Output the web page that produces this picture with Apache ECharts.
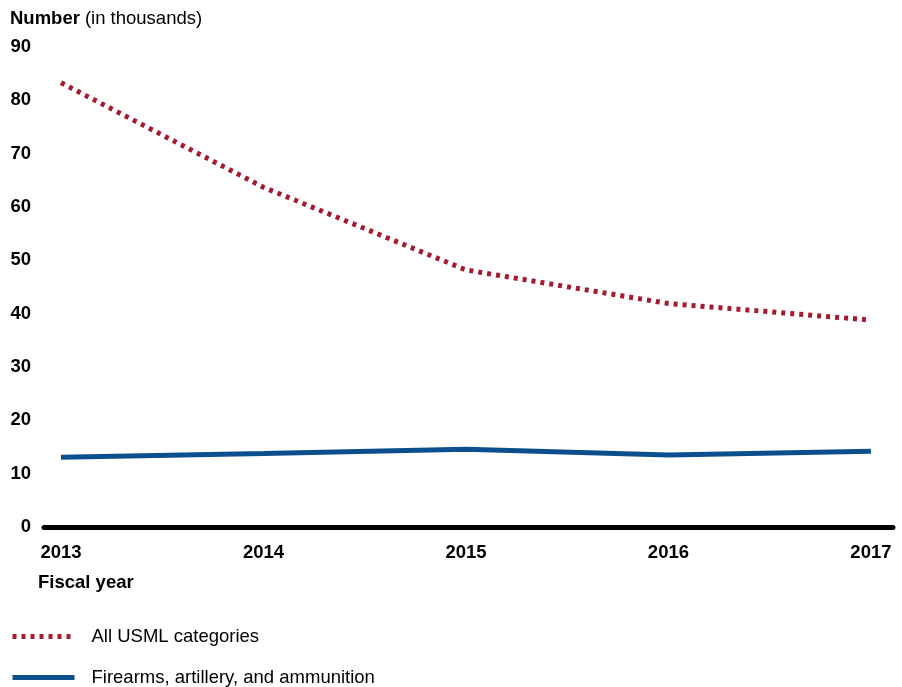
<!DOCTYPE html>
<html>
<head>
<meta charset="utf-8">
<script src="https://cdn.jsdelivr.net/npm/echarts@6/dist/echarts.min.js"></script>
<style>html,body{margin:0;padding:0;background:#fff;}#c{width:902px;height:687px;}</style>
</head>
<body>
<div id="c"></div>
<script>
var years = [2013, 2014, 2015, 2016, 2017];
var allUSML = [83.3, 63.7, 48.2, 41.9, 38.8];
var firearms = [13.1, 13.8, 14.6, 13.5, 14.2];
var yTicks = [0, 10, 20, 30, 40, 50, 60, 70, 80, 90];
var seriesNames = ['All USML categories', 'Firearms, artillery, and ammunition'];

var FONT = '"Liberation Sans", Arial, sans-serif';
var FS = 18.5;
var chart = echarts.init(document.getElementById('c'));
function pairs(v) { return years.map(function (y, i) { return [y, v[i]]; }); }

chart.setOption({
  animation: false,
  textStyle: { fontFamily: FONT },
  title: {
    left: 5, top: 4,
    text: '{b|Number} {r|(in thousands)}',
    textStyle: {
      rich: {
        b: { fontFamily: FONT, fontSize: FS, fontWeight: 'bold', color: '#000' },
        r: { fontFamily: FONT, fontSize: FS, fontWeight: 'normal', color: '#000' }
      }
    }
  },
  grid: { left: 44, right: 9, top: 47, bottom: 160, containLabel: false },
  xAxis: {
    type: 'value',
    min: 2012.916, max: 2017.109,
    axisLine: { show: true, onZero: false, lineStyle: { color: '#000', width: 5 } },
    axisTick: { show: false },
    splitLine: { show: false },
    axisLabel: {
      customValues: years,
      margin: 16,
      fontFamily: FONT, fontSize: FS, fontWeight: 'bold', color: '#000',
      formatter: function (v) { return String(v); }
    },
    name: 'Fiscal year',
    nameLocation: 'start',
    nameGap: 0,
    nameTextStyle: { fontFamily: FONT, fontSize: FS, fontWeight: 'bold', color: '#000', align: 'left', verticalAlign: 'top', padding: [46, 0, 0, -6] }
  },
  yAxis: {
    type: 'value',
    min: 0, max: 90, interval: 10,
    axisLine: { show: false },
    axisTick: { show: false },
    splitLine: { show: false },
    axisLabel: {
      margin: 13,
      fontFamily: FONT, fontSize: FS, fontWeight: 'bold', color: '#000'
    }
  },
  legend: {
    orient: 'vertical',
    left: 10, bottom: 0,
    padding: 0,
    itemWidth: 62, itemHeight: 20, itemGap: 22,
    itemStyle: { opacity: 0 },
    lineStyle: { width: 5 },
    textStyle: { fontFamily: FONT, fontSize: FS, color: '#000', padding: [0, 0, 0, 12] },
    data: seriesNames
  },
  series: [
    {
      name: seriesNames[0], type: 'line', data: pairs(allUSML),
      symbol: 'none', z: 3,
      lineStyle: { color: '#a51c30', width: 5, type: [4, 5], cap: 'butt' },
      itemStyle: { color: '#a51c30' }
    },
    {
      name: seriesNames[1], type: 'line', data: pairs(firearms),
      symbol: 'none', z: 2,
      lineStyle: { color: '#0b4f8f', width: 5, cap: 'butt' },
      itemStyle: { color: '#0b4f8f' }
    }
  ]
});
</script>
</body>
</html>
